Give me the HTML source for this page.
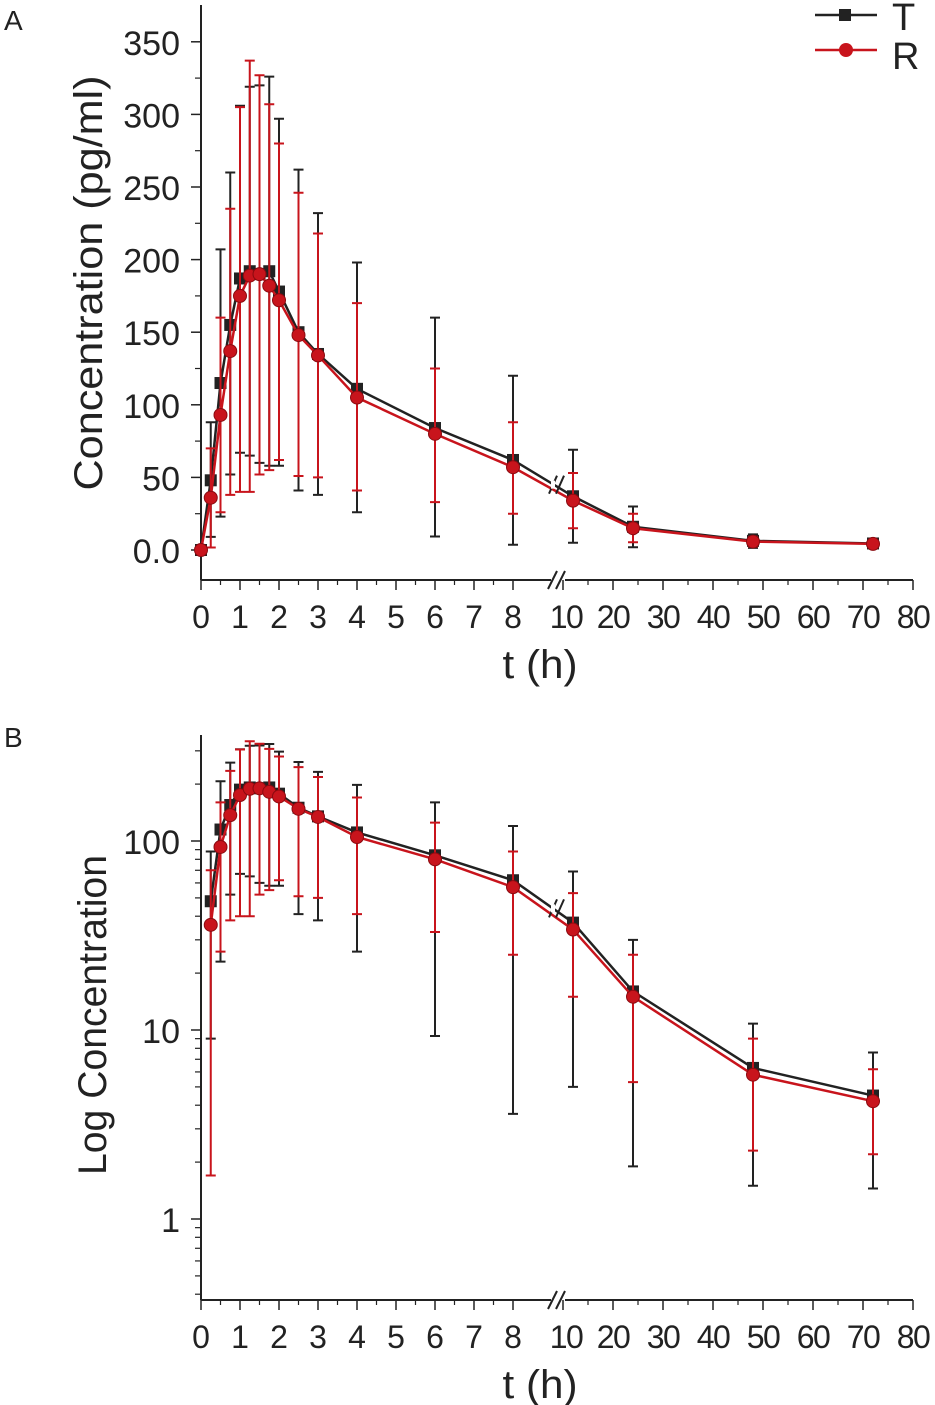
<!DOCTYPE html>
<html><head><meta charset="utf-8"><style>
body{margin:0;background:#fff}
svg{display:block;font-family:"Liberation Sans",sans-serif}
</style></head><body>
<svg id="c" width="935" height="1405" viewBox="0 0 935 1405"></svg>
<script>
const times=[0,0.25,0.5,0.75,1,1.25,1.5,1.75,2,2.5,3,4,6,8,12,24,48,72];
const tMean=[0,48,115,155,187,192,190,192,178,150,135,111,84,62,37,16,6.3,4.5];
const tUp=[0,88,207,260,306,319,320,326,297,262,232,198,160,120,69,30,10.8,7.6];
const tLo=[0,9,23,52,67,65,60,58,58,41,38,26,9.3,3.6,5,1.9,1.5,1.45];
const rMean=[0,36,93,137,175,189,190,182,172,148,134,105,80,57,34,15,5.8,4.2];
const rUp=[0,70,160,235,305,337,327,307,280,246,218,170,125,88,53,25,9,6.2];
const rLo=[0,1.7,26,38,40,40,52,55,62,51,50,41,33,25,15,5.3,2.3,2.2];
const xLeftTicks=[0,1,2,3,4,5,6,7,8];
const xRightTicks=[10,20,30,40,50,60,70,80];
const yLinTicks=[0,50,100,150,200,250,300,350];
const yLogTicks=[1,10,100];

const svg=document.getElementById('c');
const NS='http://www.w3.org/2000/svg';
function el(tag,attrs,parent){const e=document.createElementNS(NS,tag);for(const k in attrs)e.setAttribute(k,attrs[k]);(parent||svg).appendChild(e);return e;}
function X(t){return t<=8?201+t*39:573+(t-12)*5;}

function panel(p){
  const g=el('g',{});
  
  
  const Y=p.Y, ax=p.axisY;
  const ya=el('line',{x1:201,y1:p.top,x2:201,y2:ax,stroke:'#222','stroke-width':2},g);
  
  const xa1=el('line',{x1:201,y1:ax,x2:551,y2:ax,stroke:'#222','stroke-width':2},g);
  
  const xa2=el('line',{x1:565,y1:ax,x2:913,y2:ax,stroke:'#222','stroke-width':2},g);
  
  [[548],[556]].forEach(([bx])=>{el('line',{x1:bx,y1:ax+9,x2:bx+9,y2:ax-9,stroke:'#222','stroke-width':2},g);});
  xLeftTicks.forEach(t=>{
    el('line',{x1:X(t),y1:ax,x2:X(t),y2:ax+10,stroke:'#222','stroke-width':1.5},g);
    if(t<8)el('line',{x1:X(t+0.5),y1:ax,x2:X(t+0.5),y2:ax+5,stroke:'#222','stroke-width':1.2},g);
    const tx=el('text',{x:X(t),y:ax+48,'font-size':32,'text-anchor':'middle',fill:'#222'},g);tx.textContent=t;
    
  });
  xRightTicks.forEach(t=>{
    el('line',{x1:X(t),y1:ax,x2:X(t),y2:ax+10,stroke:'#222','stroke-width':1.5},g);
    if(t<80)el('line',{x1:X(t+5),y1:ax,x2:X(t+5),y2:ax+5,stroke:'#222','stroke-width':1.2},g);
    const tx=el('text',{x:X(t)+(t==10?3:0),y:ax+48,'font-size':32,'letter-spacing':-1.5,'text-anchor':'middle',fill:'#222'},g);tx.textContent=t;
    
  });
  const xt=el('text',{x:540,y:ax+98,'font-size':40,'text-anchor':'middle',fill:'#222',textLength:75,lengthAdjust:'spacingAndGlyphs'},g);xt.textContent='t (h)';
  
  p.yticks.forEach(v=>{
    el('line',{x1:201,y1:Y(v),x2:191,y2:Y(v),stroke:'#222','stroke-width':1.5},g);
    const tx=el('text',{x:180,y:Y(v)+13,'font-size':34,'text-anchor':'end',fill:'#222'},g);tx.textContent=p.fmt(v);
    
  });
  p.minor.forEach(v=>{el('line',{x1:201,y1:Y(v),x2:195,y2:Y(v),stroke:'#222','stroke-width':1.2},g);});
  const yt=el('text',{x:0,y:0,'font-size':40,'text-anchor':'middle',fill:'#222',textLength:p.ylen,lengthAdjust:'spacingAndGlyphs',transform:`translate(${p.ytx},${p.yty}) rotate(-90)`},g);yt.textContent=p.ytitle;
  
  const lab=el('text',{x:4,y:p.labY,'font-size':28,fill:'#222'},g);lab.textContent=p.label;
  
  const series=[{n:'T',m:tMean,u:tUp,l:tLo,c:'#222',sq:true},{n:'R',m:rMean,u:rUp,l:rLo,c:'#c8141c',sq:false}];
  series.forEach(s=>{
    const sg=el('g',{},g);
    
    times.forEach((t,i)=>{
      if(p.log&&s.m[i]<=0)return;
      const x=X(t);
      const e=el('path',{d:`M${x},${Y(s.u[i])}V${Y(s.l[i])}M${x-5},${Y(s.u[i])}h10M${x-5},${Y(s.l[i])}h10`,stroke:s.c,'stroke-width':2,fill:'none'},sg);
      
    });
    let d='';times.forEach((t,i)=>{if(p.log&&s.m[i]<=0)return;d+=(d?'L':'M')+X(t)+','+Y(s.m[i]);});
    const ln=el('path',{d,stroke:s.c,'stroke-width':2.5,fill:'none'},sg);
    
    times.forEach((t,i)=>{
      if(p.log&&s.m[i]<=0)return;
      const x=X(t),y=Y(s.m[i]);let mk;
      if(s.sq)mk=el('rect',{x:x-6,y:y-6,width:12,height:12,fill:'#222'},sg);
      else mk=el('circle',{cx:x,cy:y,r:6.5,fill:'#c8141c',stroke:'#8a0a10','stroke-width':1},sg);
      
    });
  });
  const by=Y(p.log?44:45);
  [[549],[556]].forEach(([bx])=>{el('line',{x1:bx,y1:by+9,x2:bx+8,y2:by-9,stroke:'#222','stroke-width':2},g);});
  el('rect',{x:551,y:by-4,width:4,height:8,fill:'#fff'},g);
}

const YA=v=>550-v*72.6/50;
const minA=[];for(let v=25;v<=350;v+=50)minA.push(v);
panel({name:'panel-a',Y:YA,axisY:580,top:5,yticks:yLinTicks,minor:minA,fmt:v=>v===0?'0.0':String(v),ytitle:'Concentration (pg/ml)',ylen:415,ytx:102,yty:283,label:'A',labY:30,log:false});
const YB=v=>1219-Math.log10(v)*189;
const minB=[];[0.1,1,10,100].forEach(d=>{for(let k=2;k<=9;k++){const v=d*k;if(YB(v)<1300&&YB(v)>735)minB.push(v);}});
panel({name:'panel-b',Y:YB,axisY:1300,top:735,yticks:yLogTicks,minor:minB,fmt:v=>String(v),ytitle:'Log Concentration',ylen:320,ytx:106,yty:1015,label:'B',labY:747,log:true});

const lg=el('g',{});
const l1=el('g',{},lg);
el('line',{x1:815,y1:15,x2:877,y2:15,stroke:'#222','stroke-width':2.5},l1);
el('rect',{x:839,y:9,width:12,height:12,fill:'#222'},l1);
const t1=el('text',{x:892,y:30,'font-size':38,fill:'#222'},l1);t1.textContent='T';
const l2=el('g',{},lg);
el('line',{x1:815,y1:50,x2:877,y2:50,stroke:'#c8141c','stroke-width':2.5},l2);
el('circle',{cx:846,cy:50,r:7,fill:'#c8141c'},l2);
const t2=el('text',{x:892,y:69,'font-size':38,fill:'#222'},l2);t2.textContent='R';
</script>
</body></html>
